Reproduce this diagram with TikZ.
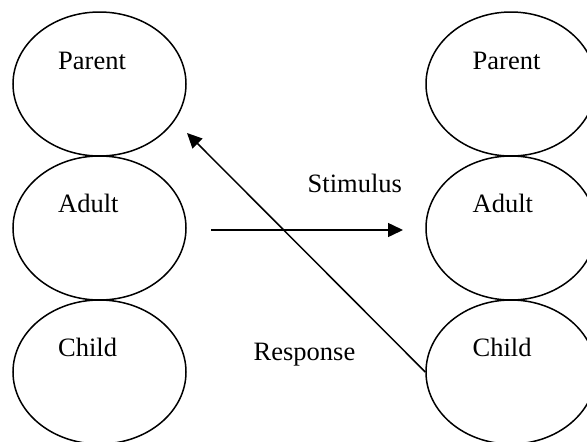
\documentclass[tikz,border=0pt]{standalone}
\usepackage{fontspec}
\setmainfont{Liberation Serif}
\usetikzlibrary{shapes.geometric,arrows.meta}
\begin{document}
\begin{tikzpicture}[x=1pt,y=-1pt,
  state/.style={draw, ellipse, line width=1.5pt, inner sep=0pt},
  leftstate/.style={state, minimum width=173pt, minimum height=144pt},
  rightstate/.style={state, minimum width=170pt, minimum height=144pt},
  word/.style={anchor=base west, inner sep=0pt, font=\fontsize{26.5}{30}\selectfont},
  link/.style={line width=1.5pt, -{Triangle[length=15pt,width=14pt]}}]
  \useasboundingbox (0,0) rectangle (587,442);
  \begin{scope}
    \clip (0,0) rectangle (587,442);
    % left column: ego states of the first person
    \node[leftstate] (lparent) at (99.5,84) {};
    \node[leftstate] (ladult)  at (99.5,228) {};
    \node[leftstate] (lchild)  at (99.5,372) {};
    % right column: ego states of the second person
    \node[rightstate] (rparent) at (511,84) {};
    \node[rightstate] (radult)  at (511,228) {};
    \node[rightstate] (rchild)  at (511,372) {};
  \end{scope}
  % state names
  \node[word] (lparentt) at (58,69)    {Parent};
  \node[word] (ladultt)  at (58,212.7) {Adult};
  \node[word] (lchildt)  at (58,356.7) {Child};
  \node[word] (rparentt) at (472.5,69)    {Parent};
  \node[word] (radultt)  at (472.5,212.7) {Adult};
  \node[word] (rchildt)  at (472.5,356.7) {Child};
  % transaction labels
  \node[word] (stim) at (307.5,192) {Stimulus};
  \node[word] (resp) at (253.5,360) {Response};
  % transaction arrows
  \coordinate (stimstart) at (211,230);
  \coordinate (stimend)   at (403,230);
  \coordinate (respend)   at (187,133);
  \draw[link] (stimstart) -- (stimend);
  \draw[link] (rchild.west) -- (respend);
\end{tikzpicture}
\end{document}
